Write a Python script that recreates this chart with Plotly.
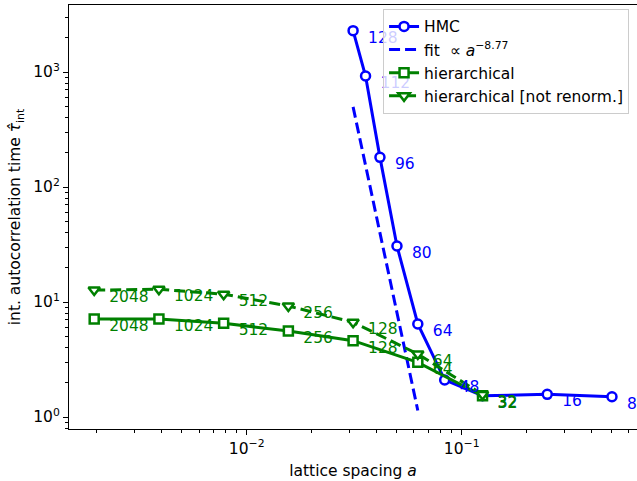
import plotly.graph_objects as go

# lattice sizes and spacing a = 4/N
hmc_N = [128, 112, 96, 80, 64, 48, 32, 16, 8]
hmc_a = [4 / n for n in hmc_N]
hmc_tau = [2287, 923, 181, 30.7, 6.44, 2.10, 1.53, 1.575, 1.50]

fit_a = [1 / 32, 1 / 16]
fit_tau = [497, 1.14]

hier_N = [2048, 1024, 512, 256, 128, 64, 32]
hier_a = [4 / n for n in hier_N]
hier_tau = [7.11, 7.11, 6.53, 5.60, 4.61, 2.99, 1.53]
hier_nr_tau = [12.7, 12.9, 11.7, 9.23, 6.66, 3.53, 1.57]

x_tickvals = [0.01, 0.1]
x_ticktext = ["10<sup>−2</sup>", "10<sup>−1</sup>"]
y_tickvals = [1, 10, 100, 1000]
y_ticktext = ["10<sup>0</sup>", "10<sup>1</sup>", "10<sup>2</sup>", "10<sup>3</sup>"]

BLUE = "#0000ff"
GREEN = "#008000"
FONT = "DejaVu Sans"
FS = 15.5

# label offsets in pixels converted to log-axis factors
PX_PER_DEC_X = 215.0
PX_PER_DEC_Y = 115.0
fx = 10 ** (15 / PX_PER_DEC_X)
fy = 10 ** (-8.25 / PX_PER_DEC_Y)

fig = go.Figure()
fig.add_trace(go.Scatter(
    x=hmc_a, y=hmc_tau, mode="lines+markers", name="HMC",
    line=dict(color=BLUE, width=3),
    marker=dict(symbol="circle", size=9, color="white", line=dict(color=BLUE, width=2.5)),
))
fig.add_trace(go.Scatter(
    x=fit_a, y=fit_tau, mode="lines", name="fit  ∝ <i>a</i><sup>−8.77</sup>",
    line=dict(color=BLUE, width=3, dash="11px,5px"),
))
fig.add_trace(go.Scatter(
    x=hier_a, y=hier_tau, mode="lines+markers", name="hierarchical",
    line=dict(color=GREEN, width=3),
    marker=dict(symbol="square", size=9, color="white", line=dict(color=GREEN, width=2.5)),
))
fig.add_trace(go.Scatter(
    x=hier_a, y=hier_nr_tau, mode="lines+markers", name="hierarchical [not renorm.]",
    line=dict(color=GREEN, width=3, dash="11px,5px"),
    marker=dict(symbol="triangle-down", size=10, color="white", line=dict(color=GREEN, width=2.5)),
))

def labels(xs, ys, ns, color):
    fig.add_trace(go.Scatter(
        x=[v * fx for v in xs], y=[v * fy for v in ys], mode="text",
        text=[str(n) for n in ns], textposition="middle right",
        textfont=dict(family=FONT, size=FS, color=color),
        showlegend=False, hoverinfo="skip", cliponaxis=False,
    ))

labels(hmc_a, hmc_tau, hmc_N, BLUE)
labels(hier_a, hier_tau, hier_N, GREEN)
labels(hier_a, hier_nr_tau, hier_N, GREEN)

fig.update_layout(
    width=637, height=481,
    margin=dict(l=69, r=0, t=5, b=52, autoexpand=False),
    paper_bgcolor="white", plot_bgcolor="white",
    font=dict(family=FONT, size=FS, color="black"),
    showlegend=True,
    legend=dict(
        x=0.986, y=0.991, xanchor="right", yanchor="top",
        bgcolor="rgba(255,255,255,0.8)", bordercolor="#cccccc", borderwidth=1,
        font=dict(family=FONT, size=FS), tracegroupgap=0,
    ),
    xaxis=dict(
        type="log", range=[-2.8265, -0.1846], automargin=False,
        title=dict(text="lattice spacing <i>a</i>", font=dict(size=FS), standoff=8),
        tickmode="array", tickvals=x_tickvals, ticktext=x_ticktext,
        ticks="outside", ticklen=5, tickwidth=1.1, tickcolor="black",
        showline=True, linecolor="black", linewidth=1.1, mirror=True,
        showgrid=False, zeroline=False,
        minor=dict(
            tickmode="array",
            tickvals=[m * 10 ** e for e in (-3, -2, -1) for m in range(2, 10)],
            ticks="outside", ticklen=3, tickwidth=0.8, tickcolor="black", showgrid=False,
        ),
    ),
    yaxis=dict(
        type="log", range=[-0.1043, 3.5826], automargin=False,
        title=dict(text="int. autocorrelation time <i>τ̂</i><sub>int</sub>", font=dict(size=FS), standoff=8),
        tickmode="array", tickvals=y_tickvals, ticktext=y_ticktext,
        ticks="outside", ticklen=5, tickwidth=1.1, tickcolor="black",
        showline=True, linecolor="black", linewidth=1.1, mirror=False,
        showgrid=False, zeroline=False,
        minor=dict(
            tickmode="array",
            tickvals=[m * 10 ** e for e in (-1, 0, 1, 2, 3) for m in range(2, 10)],
            ticks="outside", ticklen=3, tickwidth=0.8, tickcolor="black", showgrid=False,
        ),
    ),
)

fig.write_html("out.html", config={"displayModeBar": False},
               post_script="document.body.style.margin='0';")
